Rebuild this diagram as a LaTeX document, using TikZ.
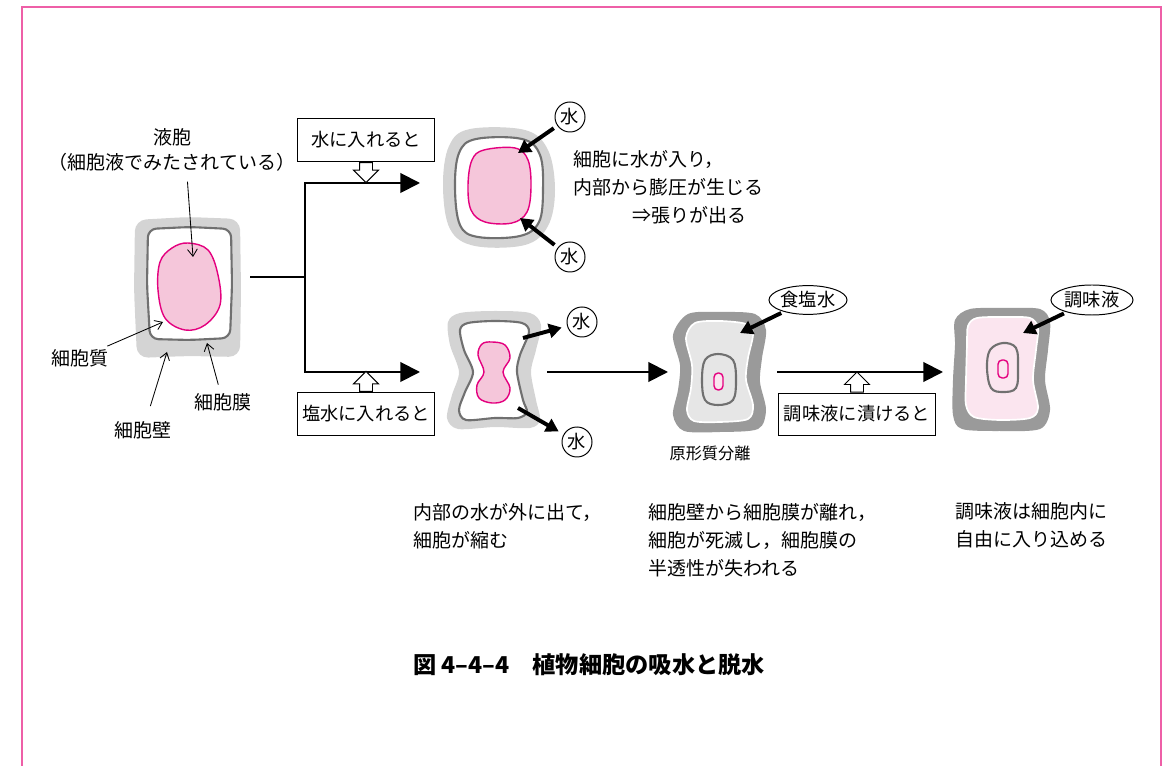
\documentclass[tikz,border=0pt]{standalone}
\usepackage{fontspec}
\setmainfont{Noto Sans CJK JP}
\usetikzlibrary{shapes,arrows.meta,positioning,calc}
\usepackage{xcolor}
\definecolor{wallgray}{HTML}{D4D4D4}
\definecolor{darkwall}{HTML}{9A9A9A}
\definecolor{membgray}{HTML}{707070}
\definecolor{vacline}{HTML}{E4007F}
\definecolor{vacfill}{HTML}{F5C6DA}
\definecolor{palepink}{HTML}{FBE5EF}
\definecolor{plasm}{HTML}{E6E6E6}
\definecolor{framepink}{HTML}{EE5FA7}

\begin{document}
\begin{tikzpicture}[x=0.025cm,y=-0.025cm,
  every node/.style={font=\fontsize{13.5}{20}\selectfont,inner sep=2pt},%
  wa/.style={fill=wallgray},%
  wd/.style={fill=darkwall},%
  mb/.style={draw=membgray,line width=1.5pt,fill=white},%
  vc/.style={draw=vacline,line width=1pt,fill=vacfill},%
  lb/.style={-{Straight Barb[length=5pt,width=7pt]},line width=0.6pt},%
  wt/.style={-{Triangle[length=9pt,width=10pt]},line width=2.8pt},%
  fl/.style={-{Triangle[length=14pt,width=14pt]},line width=1.4pt},%
  bx/.style={draw,line width=0.7pt,minimum width=3.4cm,minimum height=1.08cm,
    font=\fontsize{13}{20}\selectfont},%
  ha/.style={single arrow,draw,fill=white,line width=0.7pt,inner sep=0.15cm,
    single arrow head extend=0.15cm,minimum height=0.5cm},%
  w/.style={circle,draw,fill=white,line width=0.7pt,minimum size=0.75cm,inner sep=0pt,
    font=\fontsize{13}{20}\selectfont},%
  el/.style={ellipse,draw,fill=white,line width=0.7pt,minimum width=1.95cm,
    minimum height=0.72cm,inner sep=0pt,font=\fontsize{13}{20}\selectfont}
  ]
  \useasboundingbox (0,0) rectangle (1164,766);
  \draw[framepink,line width=0.9pt] (22,766) -- (22,7) -- (1161,7) -- (1161,766);

  % normal cell
  \fill[wa,rounded corners=8pt] (135,220) -- (188,217) -- (240,219) -- (241,290)
    -- (240,357) -- (188,356) -- (137,358) -- (134,290) -- cycle;
  \draw[mb,rounded corners=6pt] (148,229) -- (190,227) -- (231,229) -- (232,285)
    -- (230,338) -- (190,340) -- (150,339) -- (147,285) -- cycle;
  \draw[vc] plot[smooth cycle,tension=0.6] coordinates {(188,243) (208,250) (218,275)
    (220,305) (205,325) (185,330) (165,318) (158,290) (160,262) (172,248)};

  % turgid cell
  \fill[wa] plot[smooth cycle,tension=0.6] coordinates {(470,129) (525,130) (548,150)
    (555,190) (548,226) (525,245) (475,246) (450,229) (443,186) (449,146)};
  \draw[mb] plot[smooth cycle,tension=0.6] coordinates {(476,139) (522,139) (540,155)
    (543,190) (539,222) (520,236) (478,237) (460,225) (455,188) (459,153)};
  \draw[vc] plot[smooth cycle,tension=0.6] coordinates {(484,150) (515,148) (528,160)
    (531,187) (527,212) (512,223) (485,222) (471,210) (468,185) (472,160)};

  % shrunk cell
  \fill[wa] plot[smooth cycle,tension=0.5] coordinates {(460,313) (495,311) (530,313)
    (541,325) (536,350) (531,372) (536,400) (540,420) (530,428) (495,427) (458,429)
    (447,418) (452,395) (459,372) (450,345) (448,322)};
  \draw[mb] plot[smooth cycle,tension=0.5] coordinates {(468,323) (495,321) (522,323)
    (529,332) (520,355) (517,372) (523,400) (527,412) (518,418) (495,418) (466,420)
    (459,410) (465,392) (473,372) (464,350) (460,330)};
  \draw[vc] plot[smooth cycle,tension=0.6] coordinates {(492,342) (505,345) (510,358)
    (503,372) (510,388) (505,400) (492,403) (479,398) (477,385) (484,372) (478,355) (482,344)};

  % plasmolysed cell
  \fill[wd] plot[smooth cycle,tension=0.5] coordinates {(688,314) (720,312) (755,314)
    (766,330) (762,358) (760,382) (766,410) (758,429) (720,432) (684,431) (673,415)
    (678,390) (680,365) (673,335)};
  \draw[white,fill=plasm,line width=1.2pt] plot[smooth cycle,tension=0.5] coordinates {(695,323)
    (720,321) (746,324) (753,334) (748,358) (746,380) (753,405) (748,419) (720,422) (694,421)
    (687,410) (691,388) (692,365) (686,338)};
  \draw[mb,fill=plasm] plot[smooth cycle,tension=0.6] coordinates {(718,354) (733,360)
    (736,380) (733,400) (718,405) (705,400) (702,380) (705,360)};
  \draw[vc,rounded corners=3pt,fill=palepink] (714,373) rectangle (723,390);

  % seasoned cell
  \fill[wd] plot[smooth cycle,tension=0.5] coordinates {(970,309) (1005,308) (1040,309)
    (1050,322) (1048,350) (1045,380) (1050,410) (1040,429) (1000,431) (962,429)
    (953,415) (953,380) (955,345) (955,320)};
  \draw[white,fill=palepink,line width=1.2pt] plot[smooth cycle,tension=0.5] coordinates {(977,318)
    (1005,317) (1030,318) (1038,328) (1036,350) (1033,380) (1038,408) (1030,418) (1000,420)
    (974,417) (966,405) (966,380) (967,345) (968,326)};
  \draw[mb,fill=palepink] plot[smooth cycle,tension=0.6] coordinates {(1003,343) (1016,348)
    (1018,368) (1016,388) (1003,392) (991,388) (987,368) (990,350)};
  \draw[vc,rounded corners=3pt,fill=palepink] (998,360) rectangle (1008,378);

  % parts of the cell
  \node (vacLbl) [align=center,font=\fontsize{13.5}{18}\selectfont] at (172,150)
    {液胞\\（細胞液でみたされている）};
  \node (cytoLbl) at (80,358) {細胞質};
  \node (wallLbl) at (143,430) {細胞壁};
  \node (membLbl) at (223,402) {細胞膜};
  \coordinate (vacT) at (193,257);
  \coordinate (cytoT) at (163,322);
  \coordinate (wallT) at (167,352);
  \coordinate (membT) at (207,343);
  \draw[lb] ([xshift=11pt,yshift=-5pt]vacLbl.south) -- (vacT);
  \draw[lb] (cytoLbl) -- (cytoT);
  \draw[lb,shorten <=9pt] (wallLbl) -- (wallT);
  \draw[lb,shorten <=4pt] (membLbl) -- (membT);

  % branches
  \coordinate (aOut) at (250,277);
  \coordinate (split) at (305,277);
  \coordinate (bIn) at (420,183);
  \coordinate (cIn) at (420,372);
  \coordinate (cOut) at (547,372);
  \coordinate (dIn) at (668,372);
  \coordinate (dOut) at (777,372);
  \coordinate (eIn) at (943,372);
  \draw[line width=1.4pt] (aOut) -- (split);
  \draw[fl] (split) |- (bIn);
  \draw[fl] (split) |- (cIn);
  \draw[fl] (cOut) -- (dIn);
  \draw[fl] (dOut) -- (eIn);

  \node (bxWater) [bx] at (366,140) {水に入れると};
  \node (bxSalt) [bx] at (366,414) {塩水に入れると};
  \node (bxSeas) [bx,minimum width=3.92cm,minimum height=1.05cm] at (857,414) {調味液に漬けると};
  \node (haWater) [ha,rotate=-90,anchor=tail] at (bxWater.south) {};
  \node (haSalt) [ha,rotate=90,anchor=tail] at (bxSalt.north) {};
  \node (haSeas) [ha,rotate=90,anchor=tail] at (bxSeas.north) {};

  % water in and out
  \node (wIn1) [w] at (570,117) {水};
  \node (wIn2) [w] at (570,257) {水};
  \node (wOut1) [w] at (582,322) {水};
  \node (wOut2) [w] at (577,442) {水};
  \coordinate (in1) at (518,153);
  \coordinate (in2) at (520,218);
  \coordinate (out1) at (523,338);
  \coordinate (out2) at (518,408);
  \draw[wt,shorten <=3pt] (wIn1) -- (in1);
  \draw[wt,shorten <=3pt] (wIn2) -- (in2);
  \draw[wt,shorten >=4pt] (out1) -- (wOut1);
  \draw[wt,shorten >=4pt] (out2) -- (wOut2);

  \node (salt) [el] at (808,300) {食塩水};
  \node (seas) [el,minimum width=2.05cm,minimum height=0.75cm] at (1092,300) {調味液};
  \coordinate (saltT) at (740,333);
  \coordinate (seasT) at (1023,333);
  \draw[wt,shorten <=2pt] (salt) -- (saltT);
  \draw[wt,shorten <=2pt] (seas) -- (seasT);

  \node (plasmo) [font=\fontsize{11.5}{14}\selectfont] at (710,453) {原形質分離};

  % notes
  \node (noteB) [anchor=north west,align=left,inner sep=0pt] at (573,150)
    {細胞に水が入り，\\内部から膨圧が生じる\\\hspace*{3.1em}⇒張りが出る};
  \node (noteC) [anchor=north west,align=left,inner sep=0pt] at (413,503)
    {内部の水が外に出て，\\細胞が縮む};
  \node (noteD) [anchor=north west,align=left,inner sep=0pt] at (648,503)
    {細胞壁から細胞膜が離れ，\\細胞が死滅し，細胞膜の\\半透性が失われる};
  \node (noteE) [anchor=north west,align=left,inner sep=0pt] at (955,502)
    {調味液は細胞内に\\自由に入り込める};

  \node (title) [font=\fontsize{16.5}{20}\selectfont\bfseries] at (589,665)
    {図 4–4–4　植物細胞の吸水と脱水};
\end{tikzpicture}
\end{document}
